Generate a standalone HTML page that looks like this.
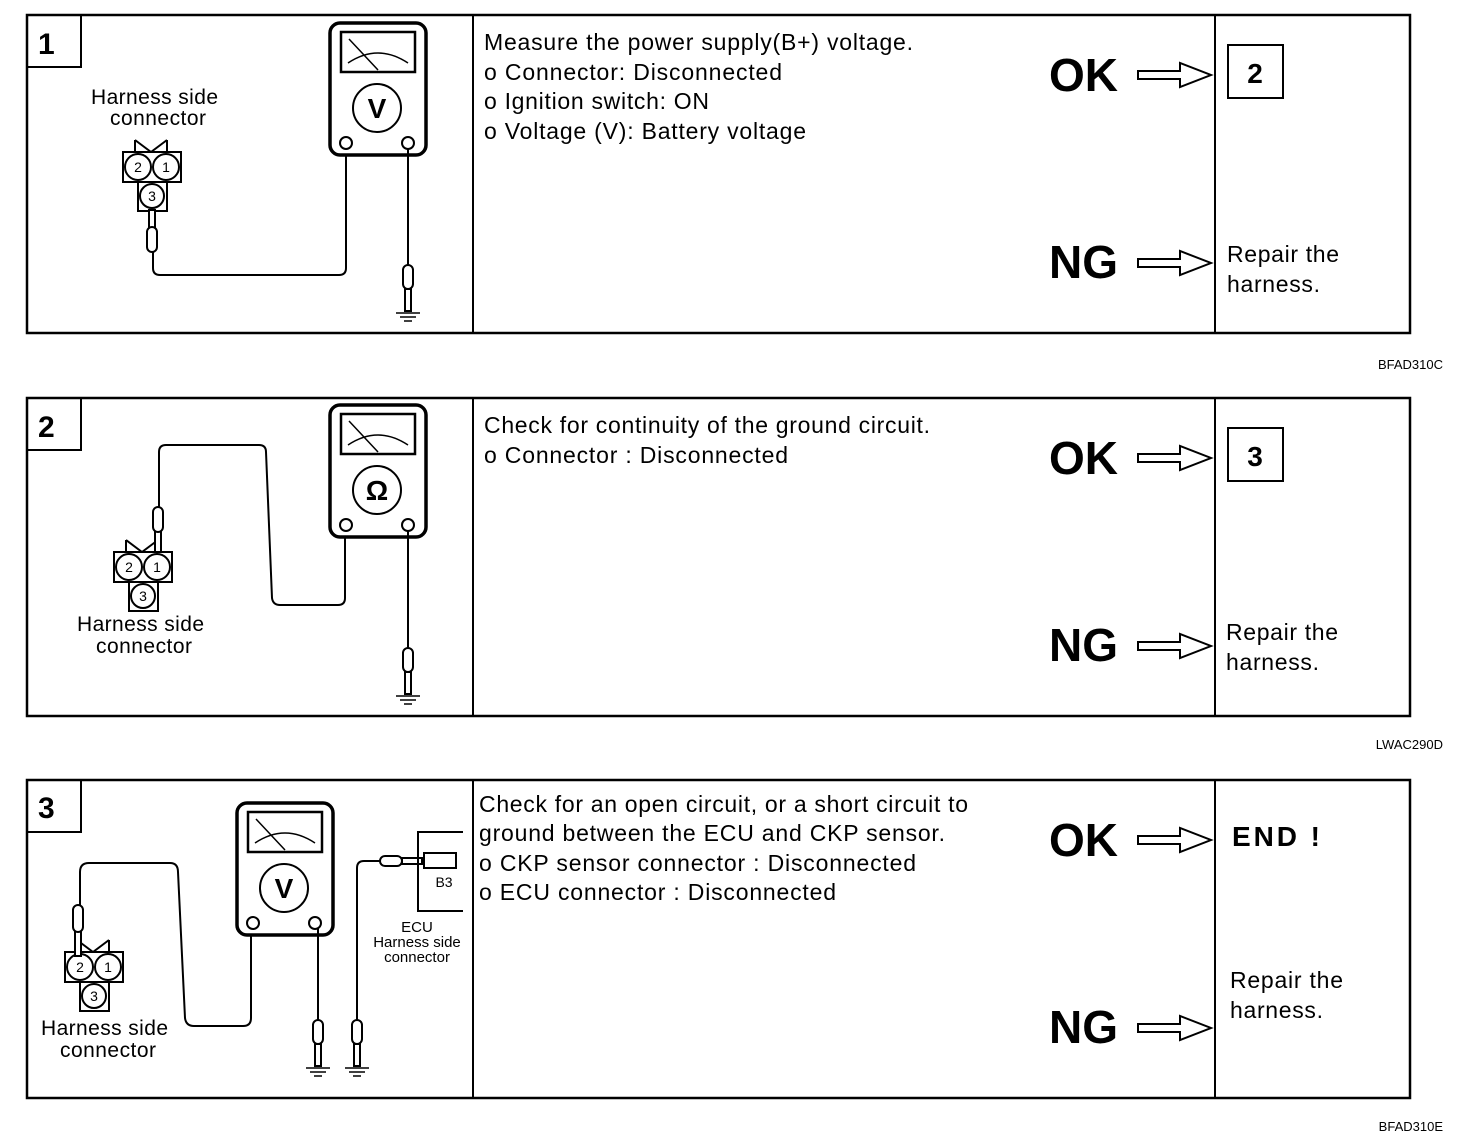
<!DOCTYPE html>
<html><head><meta charset="utf-8"><style>
html,body{margin:0;padding:0;background:#fff}
svg{display:block}
text{font-family:"Liberation Sans",Arial,sans-serif;fill:#000}
</style></head><body>
<svg width="1472" height="1148" viewBox="0 0 1472 1148" xmlns="http://www.w3.org/2000/svg">
<defs>
<g id="arrow"><path d="M1138,71 H1180 V63 L1211,75 L1180,87 V79 H1138 Z" fill="#fff" stroke="#000" stroke-width="2"/></g>
<g id="panel">
<rect x="27" y="15" width="1383" height="318" fill="none" stroke="#000" stroke-width="2.5"/>
<line x1="473" y1="15" x2="473" y2="333" stroke="#000" stroke-width="2"/>
<line x1="1215" y1="15" x2="1215" y2="333" stroke="#000" stroke-width="2"/>
<rect x="27" y="15" width="54" height="52" fill="none" stroke="#000" stroke-width="2"/>
<text x="1049" y="91" font-size="46" font-weight="bold" textLength="69">OK</text>
<use href="#arrow"/>
<text x="1049" y="278" font-size="46" font-weight="bold" textLength="69">NG</text>
<use href="#arrow" transform="translate(0,188)"/>
</g>
<g id="meter">
<rect x="0" y="0" width="96" height="132" rx="10" fill="#fff" stroke="#000" stroke-width="3.5"/>
<rect x="11" y="9" width="74" height="40" fill="none" stroke="#000" stroke-width="2.5"/>
<line x1="19" y1="16" x2="48" y2="47" stroke="#000" stroke-width="1.5"/>
<path d="M18,40 Q48,20 78,40" fill="none" stroke="#000" stroke-width="1.5"/>
<circle cx="47" cy="85" r="24" fill="none" stroke="#000" stroke-width="2"/>
<circle cx="16" cy="120" r="6" fill="#fff" stroke="#000" stroke-width="2"/>
<circle cx="78" cy="120" r="6" fill="#fff" stroke="#000" stroke-width="2"/>
</g>
<g id="probeDown">
<rect x="-5" y="0" width="10" height="24" rx="5" fill="#fff" stroke="#000" stroke-width="2"/>
<rect x="-3" y="24" width="6" height="22" fill="#fff" stroke="#000" stroke-width="2"/>
<line x1="-12" y1="48" x2="12" y2="48" stroke="#000" stroke-width="1.5"/>
<line x1="-8" y1="52" x2="8" y2="52" stroke="#000" stroke-width="1.5"/>
<line x1="-4" y1="56" x2="4" y2="56" stroke="#000" stroke-width="1.5"/>
</g>
<g id="conn" stroke="#000" stroke-width="2" fill="#fff">
<path d="M12,0 L28,12 L44,0 M12,0 V12 M44,0 V12" fill="none"/>
<rect x="0" y="12" width="58" height="30"/>
<rect x="15" y="42" width="29" height="29"/>
<circle cx="15" cy="27" r="13"/>
<circle cx="43" cy="27" r="13"/>
<circle cx="29" cy="56" r="12"/>
<text x="15" y="32" font-size="14" text-anchor="middle" stroke="none">2</text>
<text x="43" y="32" font-size="14" text-anchor="middle" stroke="none">1</text>
<text x="29" y="61" font-size="14" text-anchor="middle" stroke="none">3</text>
</g>
</defs>

<!-- Panel 1 -->
<use href="#panel"/>
<text x="38" y="54" font-size="30" font-weight="bold">1</text>
<text x="91" y="104" font-size="21" textLength="127">Harness side</text>
<text x="110" y="125" font-size="21" textLength="96">connector</text>
<use href="#conn" transform="translate(123,140)"/>
<rect x="149" y="210" width="6" height="18" fill="#fff" stroke="#000" stroke-width="2"/>
<rect x="147" y="227" width="10" height="25" rx="5" fill="#fff" stroke="#000" stroke-width="2"/>
<path d="M153,252 V268 Q153,275 160,275 H339 Q346,275 346,268 V149" fill="none" stroke="#000" stroke-width="2"/>
<use href="#meter" transform="translate(330,23)"/>
<text x="377" y="118" font-size="28" font-weight="bold" text-anchor="middle">V</text>
<line x1="408" y1="149" x2="408" y2="265" stroke="#000" stroke-width="2"/>
<use href="#probeDown" transform="translate(408,265)"/>
<g font-size="23"><text x="484" y="50" textLength="429">Measure the power supply(B+) voltage.</text>
<text x="484" y="80" textLength="298">o Connector: Disconnected</text>
<text x="484" y="109" textLength="225">o Ignition switch: ON</text>
<text x="484" y="139" textLength="322">o Voltage (V): Battery voltage</text></g>
<rect x="1228" y="45" width="55" height="53" fill="none" stroke="#000" stroke-width="2"/>
<text x="1255" y="83" font-size="28" font-weight="bold" text-anchor="middle">2</text>
<text x="1227" y="262" font-size="23" textLength="112">Repair the</text>
<text x="1227" y="292" font-size="23" textLength="93">harness.</text>
<text x="1443" y="369" font-size="13" text-anchor="end">BFAD310C</text>

<!-- Panel 2 -->
<use href="#panel" transform="translate(0,383)"/>
<text x="38" y="437" font-size="30" font-weight="bold">2</text>
<use href="#conn" transform="translate(114,540)"/>
<rect x="155" y="530" width="6" height="22" fill="#fff" stroke="#000" stroke-width="2"/>
<rect x="153" y="507" width="10" height="25" rx="5" fill="#fff" stroke="#000" stroke-width="2"/>
<path d="M159,507 V452 Q159,445 166,445 H259 Q266,445 266,452 L272,598 Q273,605 280,605 H338 Q345,605 345,598 V531" fill="none" stroke="#000" stroke-width="2"/>
<text x="77" y="631" font-size="21" textLength="127">Harness side</text>
<text x="96" y="653" font-size="21" textLength="96">connector</text>
<use href="#meter" transform="translate(330,405)"/>
<text x="377" y="500" font-size="28" font-weight="bold" text-anchor="middle">Ω</text>
<line x1="408" y1="531" x2="408" y2="648" stroke="#000" stroke-width="2"/>
<use href="#probeDown" transform="translate(408,648)"/>
<g font-size="23"><text x="484" y="433" textLength="446">Check for continuity of the ground circuit.</text>
<text x="484" y="463" textLength="304">o Connector : Disconnected</text></g>
<rect x="1228" y="428" width="55" height="53" fill="none" stroke="#000" stroke-width="2"/>
<text x="1255" y="466" font-size="28" font-weight="bold" text-anchor="middle">3</text>
<text x="1226" y="640" font-size="23" textLength="112">Repair the</text>
<text x="1226" y="670" font-size="23" textLength="93">harness.</text>
<text x="1443" y="749" font-size="13" text-anchor="end">LWAC290D</text>

<!-- Panel 3 -->
<use href="#panel" transform="translate(0,765)"/>
<text x="38" y="818" font-size="30" font-weight="bold">3</text>
<use href="#conn" transform="translate(65,940)"/>
<rect x="75" y="930" width="6" height="26" fill="#fff" stroke="#000" stroke-width="2"/>
<rect x="73" y="905" width="10" height="27" rx="5" fill="#fff" stroke="#000" stroke-width="2"/>
<path d="M80,905 V872 Q80,863 89,863 H170 Q178,863 178,872 L185,1018 Q186,1026 194,1026 H243 Q251,1026 251,1018 V928" fill="none" stroke="#000" stroke-width="2"/>
<text x="41" y="1035" font-size="21" textLength="127">Harness side</text>
<text x="60" y="1057" font-size="21" textLength="96">connector</text>
<use href="#meter" transform="translate(237,803)"/>
<text x="284" y="898" font-size="28" font-weight="bold" text-anchor="middle">V</text>
<line x1="318" y1="928" x2="318" y2="1020" stroke="#000" stroke-width="2"/>
<use href="#probeDown" transform="translate(318,1020)"/>
<path d="M357,1020 V868 Q357,861 364,861 H380" fill="none" stroke="#000" stroke-width="2"/>
<use href="#probeDown" transform="translate(357,1020)"/>
<rect x="380" y="856" width="22" height="10" rx="5" fill="#fff" stroke="#000" stroke-width="2"/>
<rect x="402" y="858" width="20" height="6" fill="#fff" stroke="#000" stroke-width="2"/>
<path d="M463,832 H418 V911 H463" fill="none" stroke="#000" stroke-width="2"/>
<rect x="424" y="853" width="32" height="15" fill="none" stroke="#000" stroke-width="2"/>
<text x="444" y="887" font-size="14" text-anchor="middle">B3</text>
<g font-size="15" text-anchor="middle"><text x="417" y="932">ECU</text>
<text x="417" y="947">Harness side</text>
<text x="417" y="962">connector</text></g>
<g font-size="23"><text x="479" y="812" textLength="489">Check for an open circuit, or a short circuit to</text>
<text x="479" y="841" textLength="466">ground between the ECU and CKP sensor.</text>
<text x="479" y="871" textLength="437">o CKP sensor connector : Disconnected</text>
<text x="479" y="900" textLength="357">o ECU connector : Disconnected</text></g>
<text x="1232" y="846" font-size="28" font-weight="bold" textLength="88">END !</text>
<text x="1230" y="988" font-size="23" textLength="113">Repair the</text>
<text x="1230" y="1018" font-size="23" textLength="93">harness.</text>
<text x="1443" y="1131" font-size="13" text-anchor="end">BFAD310E</text>
</svg>
</body></html>
